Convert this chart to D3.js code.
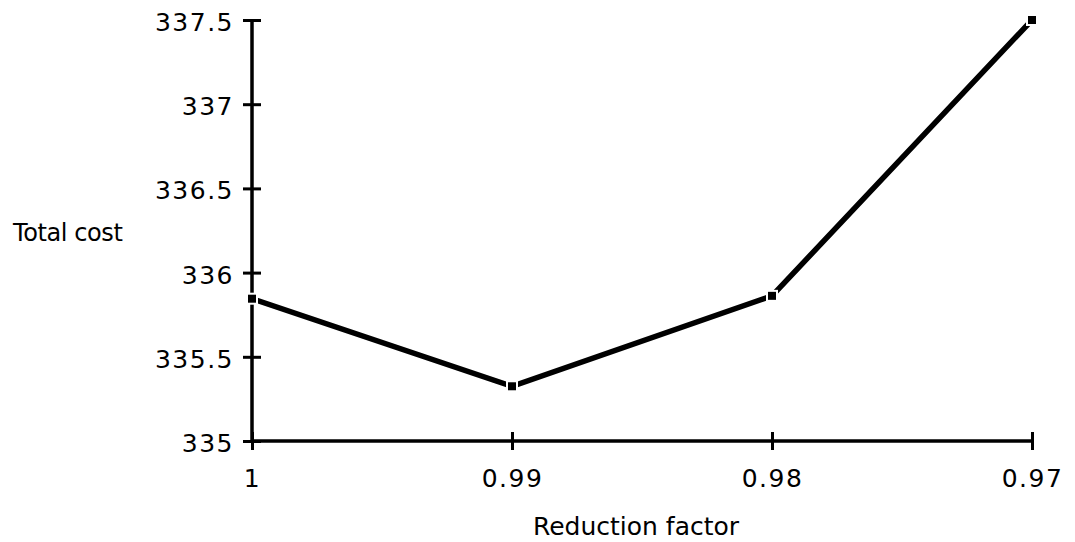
<!DOCTYPE html>
<meta charset="utf-8">
<style>
  body { margin: 0; background: #fff; }
  text { font-family: "DejaVu Sans", sans-serif; fill: #000; }
</style>
<body>
<script src="https://d3js.org/d3.v7.min.js"></script>
<script>

var factors = ["1", "0.99", "0.98", "0.97"];
var costs = [335.845, 335.325, 335.862, 337.5];
var yTicks = [335, 335.5, 336, 336.5, 337, 337.5];

var width = 1075,
    height = 542;

var svg = d3.select("body").append("svg")
    .attr("width", width)
    .attr("height", height);

var x = d3.scalePoint()
    .domain(factors)
    .range([252, 1032]);

var y = d3.scaleLinear()
    .domain([335, 337.5])
    .range([441, 20]);

// y axis, ticks cross the line
var yAxis = svg.append("g")
    .attr("transform", "translate(252,0)")
    .call(d3.axisLeft(y).tickValues(yTicks).tickSize(9).tickPadding(9)
      .tickFormat(function(d) { return d; }));
yAxis.select(".domain").attr("d", "M0," + y(337.5) + "V" + y(335)).attr("stroke-width", 3.5);
yAxis.selectAll(".tick line").attr("x1", 9).attr("x2", -9).attr("stroke-width", 3);
yAxis.selectAll(".tick text")
    .attr("font-size", 25)
    .attr("letter-spacing", 1.5)
    .attr("dy", "0.42em");

var xAxis = svg.append("g")
    .attr("transform", "translate(0," + y(335) + ")")
    .call(d3.axisBottom(x).tickSize(9).tickPadding(19));
xAxis.select(".domain").attr("d", "M" + x("1") + ",0H" + x("0.97")).attr("stroke-width", 3.5);
xAxis.selectAll(".tick line").attr("y1", -9).attr("y2", 9).attr("stroke-width", 3);
xAxis.selectAll(".tick text")
    .attr("font-size", 25)
    .attr("letter-spacing", 1.5);

var line = d3.line()
    .x(function(d, i) { return x(factors[i]); })
    .y(function(d) { return y(d); });

svg.append("path")
    .datum(costs)
    .attr("fill", "none")
    .attr("stroke", "#000")
    .attr("stroke-width", 5.5)
    .attr("d", line);

// markers with a thin white rim, like the gap in the original
svg.selectAll("rect.pt")
    .data(costs)
    .enter().append("rect")
      .attr("class", "pt")
      .attr("x", function(d, i) { return x(factors[i]) - 5; })
      .attr("y", function(d) { return y(d) - 5; })
      .attr("width", 10)
      .attr("height", 10)
      .attr("fill", "#000")
      .attr("stroke", "#fff")
      .attr("stroke-width", 2);

svg.append("text")
    .attr("x", 13)
    .attr("y", 241)
    .attr("font-size", 24)
    .attr("letter-spacing", -0.4)
    .text("Total cost");

svg.append("text")
    .attr("x", 636)
    .attr("y", 535)
    .attr("text-anchor", "middle")
    .attr("font-size", 25)
    .text("Reduction factor");

</script>
</body>
